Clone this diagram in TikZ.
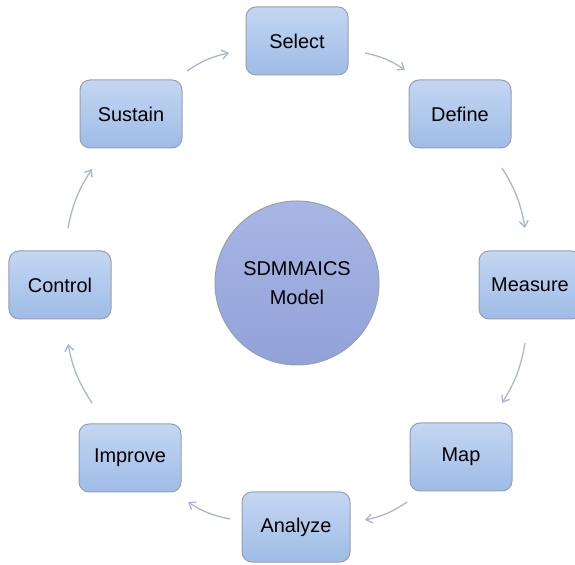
\documentclass[tikz,border=0pt]{standalone}
\usepackage{fontspec}
\setmainfont{Liberation Sans}
\usetikzlibrary{arrows.meta}
\definecolor{boxtop}{RGB}{196,214,242}
\definecolor{boxbot}{RGB}{158,188,230}
\definecolor{boxline}{RGB}{150,160,178}
\definecolor{circtop}{RGB}{168,182,228}
\definecolor{circbot}{RGB}{146,162,216}
\definecolor{arrowc}{RGB}{168,184,206}
\tikzset{
  stepbox/.style={draw=boxline, line width=1bp, rounded corners=10bp,
    top color=boxtop, bottom color=boxbot, minimum width=102bp,
    minimum height=68bp, inner sep=0pt, font=\fontsize{20}{23}\selectfont},
  hub/.style={circle, draw=boxline, line width=1bp, top color=circtop,
    bottom color=circbot, minimum size=164bp, inner sep=0pt, align=center,
    font=\fontsize{20}{29}\selectfont},
  flow/.style={draw=arrowc, line width=1.3bp, bend left=11,
    -{Straight Barb[length=6bp,width=9bp,line width=1.3bp]}}
}
\begin{document}
\begin{tikzpicture}[x=1bp,y=1bp]
\useasboundingbox (0,0) rectangle (575,565);
\fill[white] (0,0) rectangle (575,565);
\node[hub] (hub) at (297,282) {SDMMAICS\\Model};
\node[stepbox] (select) at (297,524) {Select};
\node[stepbox] (define) at (460,451) {Define};
\node[stepbox] (measure) at (530,280) {Measure};
\node[stepbox] (map) at (461,108) {Map};
\node[stepbox, minimum width=108bp, minimum height=70bp] (analyze) at (296,38) {Analyze};
\node[stepbox] (improve) at (130,107) {Improve};
\node[stepbox] (control) at (60,280) {Control};
\node[stepbox] (sustain) at (131,451) {Sustain};
\coordinate (a1s) at (187,494); \coordinate (a1e) at (229,512);
\coordinate (a2s) at (365,512); \coordinate (a2e) at (405,495);
\coordinate (a3s) at (502,397); \coordinate (a3e) at (525,337);
\coordinate (a4s) at (525,222); \coordinate (a4e) at (502,162);
\coordinate (a5s) at (407,63);  \coordinate (a5e) at (365,45);
\coordinate (a6s) at (230,46);  \coordinate (a6e) at (188,63);
\coordinate (a7s) at (92,162);  \coordinate (a7e) at (68,221);
\coordinate (a8s) at (68,337);  \coordinate (a8e) at (92,396);
\draw[flow] (a1s) to (a1e);
\draw[flow] (a2s) to (a2e);
\draw[flow] (a3s) to (a3e);
\draw[flow] (a4s) to (a4e);
\draw[flow] (a5s) to (a5e);
\draw[flow] (a6s) to (a6e);
\draw[flow] (a7s) to (a7e);
\draw[flow] (a8s) to (a8e);
\end{tikzpicture}
\end{document}
